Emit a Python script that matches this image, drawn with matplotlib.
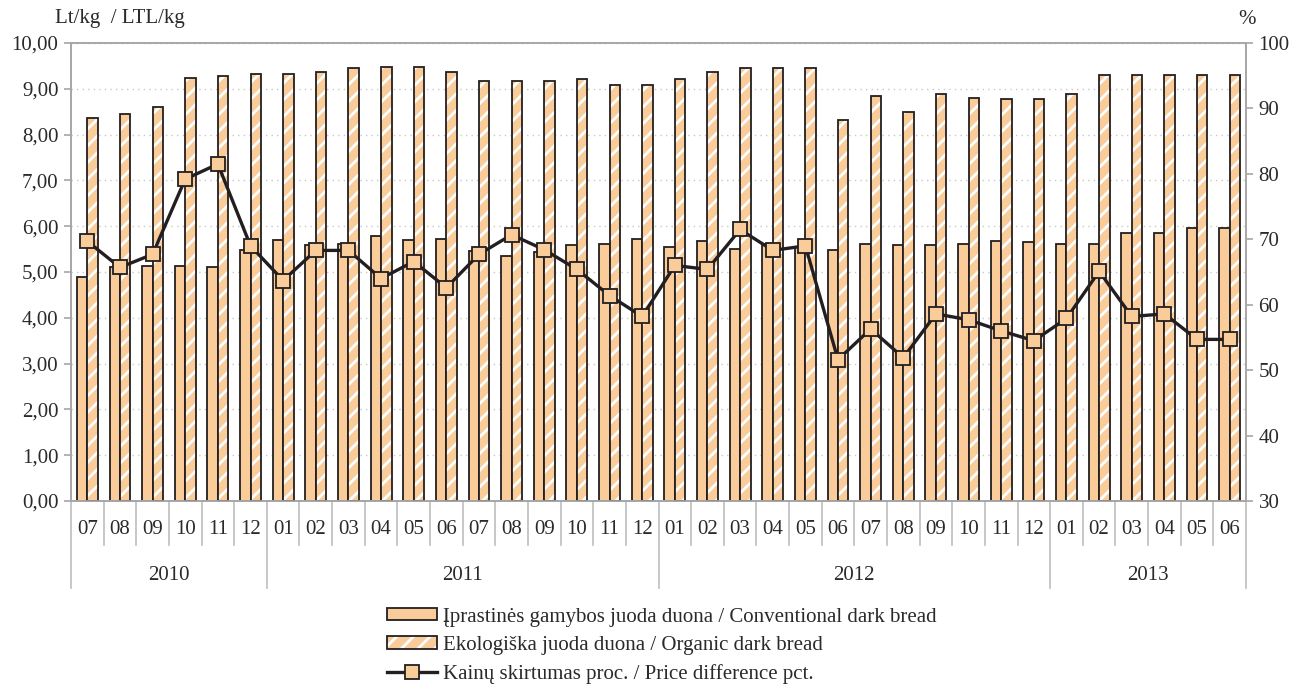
import matplotlib
matplotlib.use("Agg")
import matplotlib.pyplot as plt
import matplotlib.transforms as mtransforms
from matplotlib.patches import Patch
from matplotlib.lines import Line2D
import numpy as np

# --- data -------------------------------------------------------------
months = ["07", "08", "09", "10", "11", "12",
          "01", "02", "03", "04", "05", "06", "07", "08", "09", "10", "11", "12",
          "01", "02", "03", "04", "05", "06", "07", "08", "09", "10", "11", "12",
          "01", "02", "03", "04", "05", "06"]
years = ["2010", "2011", "2012", "2013"]
months_per_year = [6, 12, 12, 6]

conventional = [4.90, 5.10, 5.14, 5.14, 5.10, 5.49,
                5.69, 5.58, 5.62, 5.78, 5.69, 5.73, 5.45, 5.34, 5.43, 5.60, 5.62, 5.73,
                5.54, 5.67, 5.51, 5.62, 5.54, 5.49, 5.62, 5.58, 5.58, 5.62, 5.67, 5.66,
                5.62, 5.62, 5.86, 5.86, 5.97, 5.97]
organic = [8.36, 8.45, 8.60, 9.23, 9.28, 9.32,
           9.32, 9.37, 9.45, 9.48, 9.48, 9.37, 9.17, 9.17, 9.17, 9.21, 9.08, 9.08,
           9.21, 9.37, 9.45, 9.45, 9.45, 8.32, 8.84, 8.49, 8.88, 8.80, 8.77, 8.77,
           8.88, 9.30, 9.30, 9.30, 9.30, 9.30]
price_diff = [69.7, 65.7, 67.7, 79.2, 81.5, 69.0,
              63.7, 68.3, 68.3, 64.0, 66.6, 62.6, 67.7, 70.7, 68.4, 65.4, 61.4, 58.2,
              66.0, 65.4, 71.5, 68.3, 69.0, 51.6, 56.3, 51.9, 58.6, 57.7, 56.0, 54.5,
              57.9, 65.1, 58.2, 58.6, 54.7, 54.7]

labels = ["Įprastinės gamybos juoda duona / Conventional dark bread",
          "Ekologiška juoda duona / Organic dark bread",
          "Kainų skirtumas proc. / Price difference pct."]

# --- style ------------------------------------------------------------
plt.rcParams["font.family"] = ["Liberation Serif", "DejaVu Serif"]
plt.rcParams["hatch.linewidth"] = 2.0
orange = "#F9CC9A"
dark = "#231F20"
grey = "#A6A6A6"
txt = "#2A2A2A"
fs = 15

fig = plt.figure(figsize=(12.96, 6.86), dpi=100)
ax = fig.add_axes([71 / 1296, 1 - 501 / 686, (1246 - 71) / 1296, (501 - 43) / 686])
ax2 = ax.twinx()

x = np.arange(len(months))
w = 0.32
ax.bar(x - w / 2, conventional, w, color=orange, edgecolor=dark, linewidth=1.3, zorder=2)
ax.bar(x + w / 2, organic, w, color=orange, edgecolor="white", hatch="//", linewidth=0, zorder=2)
ax.bar(x + w / 2, organic, w, fill=False, edgecolor=dark, linewidth=1.3, zorder=3)

ax2.plot(x, price_diff, color=dark, lw=2.4, marker="s", markersize=10,
         markerfacecolor=orange, markeredgecolor=dark, markeredgewidth=1.3, zorder=5)

# axes
ax.set_xlim(-0.5, len(months) - 0.5)
ax.set_ylim(0, 10)
ax.set_yticks(np.arange(0, 11, 1))
ax.set_yticklabels([f"{v:.2f}".replace(".", ",") for v in range(0, 11)])
ax2.set_ylim(30, 100)
ax2.set_yticks(np.arange(30, 101, 10))

ax.set_axisbelow(True)
ax.yaxis.grid(True, linestyle=(0, (1, 3)), color="#C8C8C8", linewidth=1)
for a in (ax, ax2):
    for s in a.spines.values():
        s.set_color(grey)
        s.set_linewidth(1.2)
    a.tick_params(axis="y", direction="out", length=5, width=1.2, color=grey,
                  labelsize=fs, labelcolor=txt, pad=4)

# category axis: months + years in boxes
ax.set_xticks(x)
ax.set_xticklabels(months)
ax.tick_params(axis="x", length=0, labelsize=fs, labelcolor=txt, pad=14)
trans = mtransforms.blended_transform_factory(ax.transData, ax.transAxes)
for i in range(len(months) + 1):
    bottom = -0.096
    if i in np.cumsum([0] + months_per_year):
        bottom = -0.19
    ax.plot([i - 0.5, i - 0.5], [0, bottom], color="#BDBDBD", lw=1.2,
            transform=trans, clip_on=False)
start = 0
for yr, n in zip(years, months_per_year):
    ax.text(start + n / 2 - 0.5, -0.162, yr, transform=trans, ha="center",
            va="center", fontsize=fs, color=txt)
    start += n

fig.text(55 / 1296, 1 - 19 / 686, "Lt/kg  / LTL/kg", fontsize=fs, color=txt, va="center")
fig.text(1247 / 1296, 1 - 19 / 686, "%", fontsize=fs, color=txt, va="center", ha="center")

# legend
h_conv = Patch(facecolor=orange, edgecolor=dark, linewidth=1.3)
h_org = (Patch(facecolor=orange, edgecolor="white", hatch="//", linewidth=0),
         Patch(fill=False, edgecolor=dark, linewidth=1.3))
h_line = Line2D([0], [0], color=dark, lw=2.4, marker="s", markersize=10,
                markerfacecolor=orange, markeredgecolor=dark, markeredgewidth=1.3)
fig.legend([h_conv, h_org, h_line], labels, loc="upper left",
           bbox_to_anchor=(372 / 1296, 1 - 593 / 686), frameon=False,
           fontsize=fs, handlelength=2.4, handleheight=0.55, handletextpad=0.3,
           labelspacing=0.45, borderpad=0.2, labelcolor=txt)

fig.savefig("out.png", dpi=100)
